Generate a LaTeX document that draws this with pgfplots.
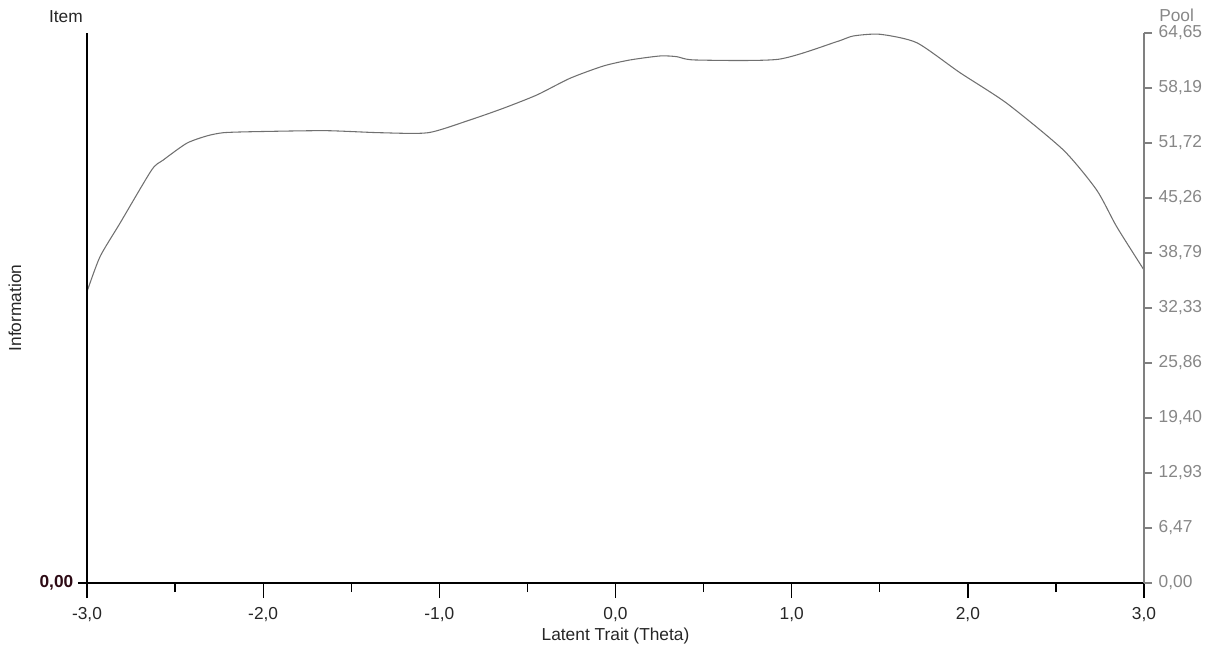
\documentclass[border=0pt]{standalone}
\usepackage{pgfplots}
\pgfplotsset{compat=1.18}
\usepackage{pgfplotstable}
\usepackage{fontspec}
\setmainfont{Liberation Sans}
\definecolor{curvegray}{RGB}{112,112,112}
\definecolor{rgray}{RGB}{128,128,128}
\definecolor{rlabel}{RGB}{135,135,135}
\definecolor{darklab}{RGB}{45,10,20}
\pgfplotstableread{
theta info
-3.000 34.24
-2.926 38.36
-2.813 42.28
-2.633 48.55
-2.567 49.72
-2.434 51.69
-2.320 52.55
-2.226 52.93
-2.056 53.05
-1.649 53.17
-1.337 52.93
-1.063 52.93
-0.826 54.43
-0.637 55.80
-0.447 57.36
-0.258 59.33
-0.069 60.77
0.082 61.48
0.253 61.95
0.347 61.87
0.451 61.48
0.924 61.56
1.256 63.63
1.350 64.30
1.501 64.50
1.710 63.51
1.955 59.99
2.221 56.39
2.542 50.90
2.731 46.20
2.845 41.88
3.000 36.79
}\infodata
\begin{document}
\begin{tikzpicture}[font=\fontsize{13}{15}\selectfont]
\path[use as bounding box] (-65.25pt,-52.5pt) rectangle (855pt,437.25pt);
\pgfplotsset{base/.style={scale only axis, width=792.75pt, height=412.5pt,
  xmin=-3, xmax=3, ymin=0, ymax=64.65,
  /pgf/number format/assume math mode=true, clip=false}}
% bottom axis and curve
\begin{axis}[base, axis x line=bottom, axis y line=none,
  axis line style={-, draw=black, line width=1pt},
  xtick align=outside,
  xtick={-3,-2,-1,0,1,2,3}, minor xtick={-2.5,-1.5,-0.5,0.5,1.5,2.5},
  major tick length=11.25pt, minor tick length=6.75pt,
  tick style={black, line width=1pt},
  xticklabel style={black!85, yshift=-3.75pt, /pgf/number format/fixed, /pgf/number format/fixed zerofill, /pgf/number format/precision=1, /pgf/number format/use comma},
  xlabel={Latent Trait (Theta)},
  xlabel style={at={(axis description cs:0.5,-0.0964)}, anchor=center, black!85}]
\addplot[curvegray, line width=0.8pt, smooth, tension=0.4] table[x=theta, y=info]{\infodata};
\end{axis}
% left axis
\begin{axis}[base, axis x line=none, axis y line=left,
  axis line style={-, draw=black, line width=1pt},
  ytick align=outside,
  ytick={0}, yticklabels={{\textbf{0,00}}},
  major tick length=6.75pt, tick style={black, line width=1pt},
  yticklabel style={darklab},
  ylabel={Information},
  ylabel style={at={(axis description cs:-0.0681,0.5)}, anchor=center, black!85}]
\node[anchor=base east, inner sep=0pt, black!85] at ([xshift=-3pt,yshift=7.5pt]axis description cs:0,1) {Item};
\end{axis}
% right axis
\begin{axis}[base, axis x line=none, axis y line=right,
  axis line style={-, draw=rgray, line width=1pt},
  ytick align=outside,
  ytick={0,6.47,12.93,19.40,25.86,32.33,38.79,45.26,51.72,58.19,64.65},
  major tick length=6pt, tick style={rgray, line width=1pt},
  yticklabel style={rlabel, xshift=1.5pt, /pgf/number format/fixed, /pgf/number format/fixed zerofill, /pgf/number format/precision=2, /pgf/number format/use comma}]
\node[anchor=base west, inner sep=0pt, rlabel] at ([xshift=11.25pt,yshift=8.25pt]axis description cs:1,1) {Pool};
\end{axis}
\end{tikzpicture}
\end{document}
